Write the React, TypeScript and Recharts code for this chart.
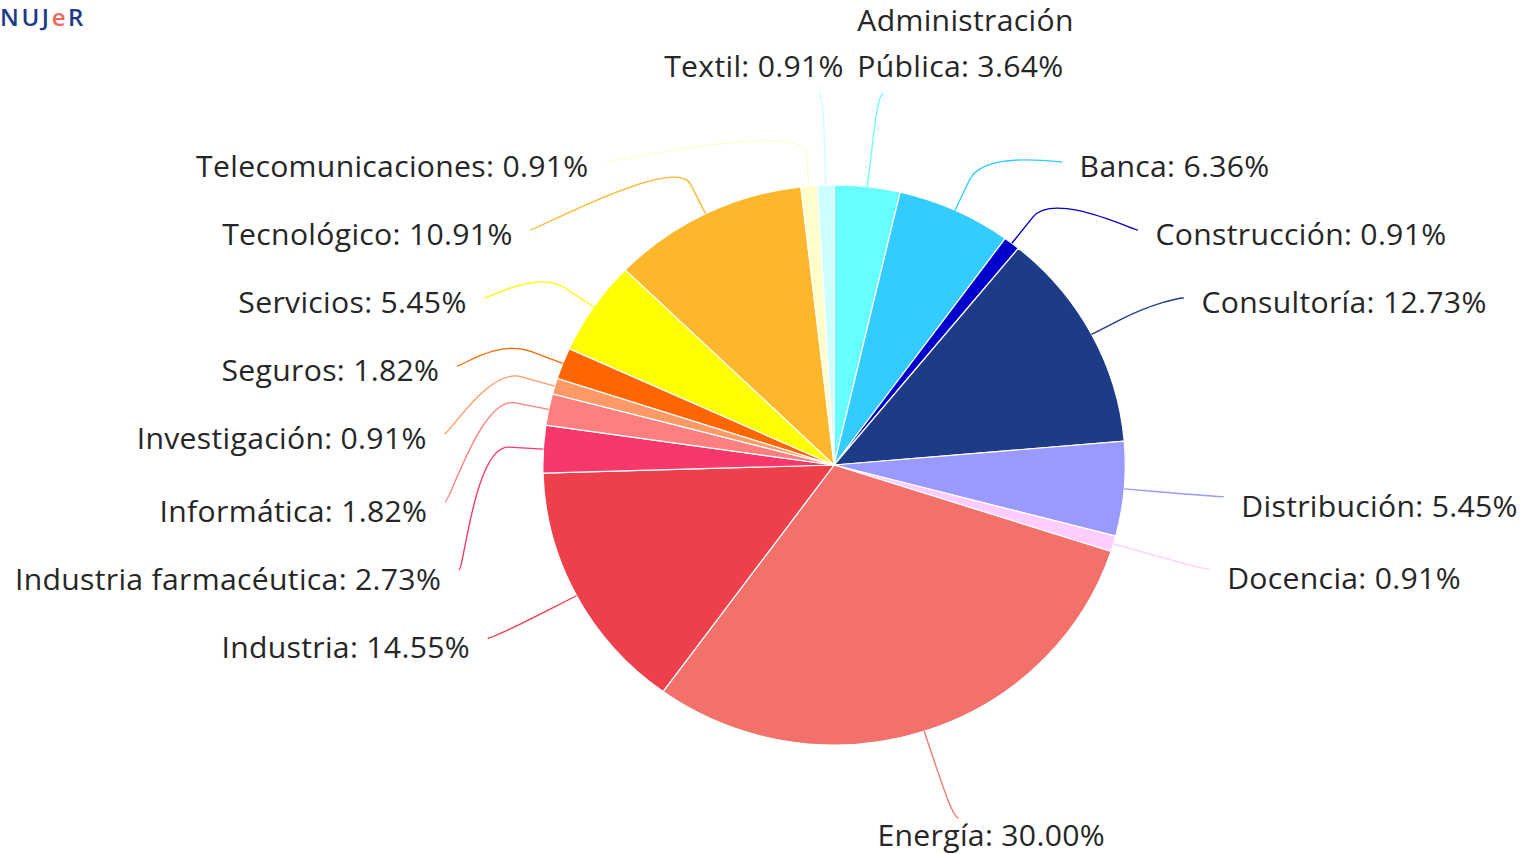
import React from 'react';
import { PieChart, Pie, Cell } from 'recharts';

// ---------- data ----------
const categories = [
  'Administración Pública',
  'Banca',
  'Construcción',
  'Consultoría',
  'Distribución',
  'Docencia',
  'Energía',
  'Industria',
  'Industria farmacéutica',
  'Informática',
  'Investigación',
  'Seguros',
  'Servicios',
  'Tecnológico',
  'Telecomunicaciones',
  'Textil',
];
const shares = [3.64, 6.36, 0.91, 12.73, 5.45, 0.91, 30.0, 14.55, 2.73, 1.82, 0.91, 1.82, 5.45, 10.91, 0.91, 0.91];
const sliceColors = [
  '#66ffff', '#33ccff', '#0000cc', '#1e3b87', '#9999ff', '#ffccff', '#f2726b', '#ee404b',
  '#f8376a', '#ff7f7f', '#ff9966', '#ff6600', '#ffff00', '#fcb72c', '#ffffcc', '#ccffff',
];

const tableData = categories.map((name, i) => ({ name, value: shares[i] }));

// ---------- layout parameters ----------
const SCALE_X = 1.04;
const CHART_W = 1468;
const CHART_H = 854;
const PIE_CX = 802;
const PIE_CY = 465;
const PIE_R = 280;
const LABEL_DISTANCE = 91;
const BREAK_OFFSET = 33;
const BOX_SIZE = 68;
const EDGE_PAD = 5;
const CONNECTOR_PAD = 17;
const FONT_SIZE = 29;
const FONT = "'Open Sans', sans-serif";
const RAD = Math.PI / 180;

type Item = {
  left: boolean;
  naturalY: number;
  touch: [number, number];
  brk: [number, number];
  x: number;
  y: number;
};

// Highcharts-like box distribution
function distribute(targets: number[], size: number, len: number): number[] {
  const order = targets.map((_, i) => i).sort((a, b) => targets[a] - targets[b]);
  const boxes = order.map((i) => ({ size, targets: [targets[i]], idx: [i], pos: 0 }));
  let overlapping = true;
  let guard = 0;
  while (overlapping && guard++ < 200) {
    for (const b of boxes) {
      const t = (Math.min(...b.targets) + Math.max(...b.targets)) / 2;
      b.pos = Math.min(Math.max(t - b.size / 2, 0), len - b.size);
    }
    overlapping = false;
    for (let i = boxes.length - 1; i > 0; i--) {
      const prev = boxes[i - 1];
      const cur = boxes[i];
      if (prev.pos + prev.size > cur.pos) {
        prev.size += cur.size;
        prev.targets = prev.targets.concat(cur.targets);
        prev.idx = prev.idx.concat(cur.idx);
        if (prev.pos + prev.size > len) prev.pos = len - prev.size;
        boxes.splice(i, 1);
        overlapping = true;
      }
    }
  }
  const out = new Array(targets.length).fill(0);
  for (const b of boxes) {
    let off = 0;
    for (const i of b.idx) {
      out[i] = b.pos + off;
      off += size;
    }
  }
  return out;
}

let layoutCache: { key: string; items: Item[] } | null = null;

function getLayout(cx: number, cy: number, r: number): Item[] {
  const key = `${cx}|${cy}|${r}`;
  if (layoutCache && layoutCache.key === key) return layoutCache.items;
  const total = shares.reduce((a, b) => a + b, 0);
  const RL = r + LABEL_DISTANCE;
  const top = Math.max(0, cy - RL);
  const bottom = Math.min(cy + RL, CHART_H);
  let cum = 0;
  const items: Item[] = shares.map((v) => {
    const mid = 90 - (360 * (cum + v / 2)) / total;
    cum += v;
    const c = Math.cos(-mid * RAD);
    const s = Math.sin(-mid * RAD);
    return {
      left: c < 0,
      naturalY: cy + RL * s,
      touch: [cx + r * c, cy + r * s],
      brk: [cx + (r + BREAK_OFFSET) * c, cy + (r + BREAK_OFFSET) * s],
      x: 0,
      y: 0,
    };
  });
  for (const left of [false, true]) {
    const side = items.filter((p) => p.left === left);
    const len = bottom + BOX_SIZE - top;
    const pos = distribute(side.map((p) => p.naturalY - top + BOX_SIZE / 2), BOX_SIZE, len);
    side.forEach((p, k) => {
      const y = top + pos[k];
      const yx = y < top + 2 || y > bottom - 2 ? p.naturalY : y;
      const ang = Math.asin(Math.max(-1, Math.min(1, (yx - cy) / RL)));
      const dir = left ? -1 : 1;
      p.x = cx + dir * (Math.cos(ang) * RL + EDGE_PAD);
      p.y = y;
    });
  }
  layoutCache = { key, items };
  return items;
}

function wrapText(text: string, maxChars: number): string[] {
  const words = text.split(' ');
  const lines: string[] = [];
  let line = '';
  for (const w of words) {
    const cand = line ? `${line} ${w}` : w;
    if (cand.length > maxChars && line) {
      lines.push(line);
      line = w;
    } else {
      line = cand;
    }
  }
  if (line) lines.push(line);
  return lines;
}

const renderLabel = (props: any) => {
  const { cx, cy, outerRadius } = props;
  const idx =
    typeof props.index === 'number'
      ? props.index
      : categories.indexOf(props.name ?? (props.payload && props.payload.name));
  if (idx < 0) return null;
  const items = getLayout(cx, cy, outerRadius);
  const p = items[idx];
  const RL = outerRadius + LABEL_DISTANCE;
  const color = sliceColors[idx];
  const dir = p.left ? -1 : 1;
  const c1x = p.x - dir * 5;
  const d = `M ${p.x} ${p.y} C ${c1x} ${p.y} ${2 * p.brk[0] - p.touch[0]} ${2 * p.brk[1] - p.touch[1]} ${p.brk[0]} ${p.brk[1]} L ${p.touch[0]} ${p.touch[1]}`;
  const label = `${categories[idx]}: ${shares[idx].toFixed(2)}%`;
  const near = Math.abs(p.y - cy) / RL > 0.9;
  const below = p.y > cy;
  const textProps = {
    fontFamily: FONT,
    fontSize: FONT_SIZE,
    fontWeight: 500,
    letterSpacing: 0.3,
    fill: '#262626',
  };
  let textEl;
  if (!near) {
    textEl = (
      <text
        x={p.x + dir * CONNECTOR_PAD}
        y={p.y + (below ? 20 : 15)}
        textAnchor={p.left ? 'end' : 'start'}
        {...textProps}
      >
        {label}
      </text>
    );
  } else {
    const lines = wrapText(label, 16);
    const isTop = p.y < cy;
    const tx = p.x - dir * (isTop ? 25 : 78);
    const firstBase = isTop ? p.y - 17 - (lines.length - 1) * 46 : p.y + 28;
    textEl = (
      <text x={tx} y={firstBase} textAnchor={p.left ? 'end' : 'start'} {...textProps}>
        {lines.map((ln, k) => (
          <tspan key={k} x={tx} y={firstBase + k * 46}>
            {ln}
          </tspan>
        ))}
      </text>
    );
  }
  return (
    <g>
      <path d={d} fill="none" stroke={color} strokeWidth={1.3} />
      {textEl}
    </g>
  );
};

export default function App() {
  return (
    <div style={{ position: 'absolute', left: 0, top: 0, width: 1527, height: 854, background: '#ffffff', overflow: 'hidden' }}>
      <div
        style={{
          position: 'absolute',
          left: 0,
          top: 0,
          width: CHART_W,
          height: CHART_H,
          transform: `scaleX(${SCALE_X})`,
          transformOrigin: '0 0',
        }}
      >
        <PieChart width={CHART_W} height={CHART_H} margin={{ top: 0, right: 0, bottom: 0, left: 0 }}>
          <Pie
            data={tableData}
            dataKey="value"
            nameKey="name"
            cx={PIE_CX}
            cy={PIE_CY}
            outerRadius={PIE_R}
            startAngle={90}
            endAngle={-270}
            stroke="#ffffff"
            strokeWidth={1.2}
            label={renderLabel}
            labelLine={false}
            isAnimationActive={false}
          >
            {tableData.map((entry, i) => (
              <Cell key={entry.name} fill={sliceColors[i]} />
            ))}
          </Pie>
        </PieChart>
      </div>
      <svg width={130} height={36} style={{ position: 'absolute', left: 0, top: 0 }}>
        <text x={0} y={26} fontFamily={FONT} fontSize={24} fontWeight={600} letterSpacing={2.6} fill="#1d3b85">
          NUJ<tspan fill="#f2695c">e</tspan>R
        </text>
      </svg>
    </div>
  );
}
